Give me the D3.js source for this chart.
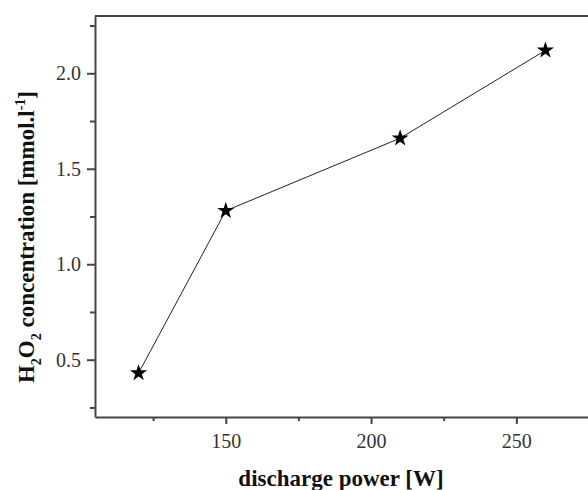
<!DOCTYPE html>
<html>
<head>
<meta charset="utf-8">
<script src="https://cdn.jsdelivr.net/npm/d3@7"></script>
<style>
  body { margin: 0; background: #fff; }
  svg { display: block; }
  .tick text { font-family: "Liberation Serif", serif; font-size: 20px; fill: #333; }
  .title { font-family: "Liberation Serif", serif; font-weight: bold; font-size: 23px; fill: #111; }
</style>
</head>
<body>
<div id="chart"></div>
<script>
// data
var power = [120, 150, 210, 260];
var conc = [0.43, 1.28, 1.66, 2.12];
var xTicks = [150, 200, 250];
var xMinor = [125, 175, 225, 275];
var yTicks = [0.5, 1.0, 1.5, 2.0];
var yMinor = [0.25, 0.75, 1.25, 1.75, 2.25];

var width = 588, height = 490;
var padL = 95, padT = 16, padB = 417, padR = 589;

var svg = d3.select("#chart").append("svg")
    .attr("width", width)
    .attr("height", height);

var x = d3.scaleLinear().domain([105, 275]).range([padL, padR]);
var y = d3.scaleLinear().domain([0.2, 2.3]).range([padB, padT]);

// minor ticks first, so the major axis draws over them
svg.append("g")
    .attr("transform", "translate(0," + padB + ")")
    .call(d3.axisBottom(x).tickValues(xMinor).tickSize(4).tickFormat(""))
    .call(g => g.select(".domain").remove())
    .selectAll("line").attr("stroke", "#444").attr("stroke-width", 2);

svg.append("g")
    .attr("transform", "translate(" + padL + ",0)")
    .call(d3.axisLeft(y).tickValues(yMinor).tickSize(5).tickFormat(""))
    .call(g => g.select(".domain").remove())
    .selectAll("line").attr("stroke", "#444").attr("stroke-width", 2);

var xAxis = svg.append("g")
    .attr("transform", "translate(0," + padB + ")")
    .call(d3.axisBottom(x).tickValues(xTicks).tickSize(7).tickSizeOuter(0).tickPadding(10).tickFormat(d3.format("d")));
xAxis.select(".domain").attr("stroke", "#444").attr("stroke-width", 2);
xAxis.selectAll("line").attr("stroke", "#444").attr("stroke-width", 2);

var yAxis = svg.append("g")
    .attr("transform", "translate(" + padL + ",0)")
    .call(d3.axisLeft(y).tickValues(yTicks).tickSize(8).tickSizeOuter(0).tickPadding(6).tickFormat(d3.format(".1f")));
yAxis.select(".domain").attr("stroke", "#444").attr("stroke-width", 2);
yAxis.selectAll("line").attr("stroke", "#444").attr("stroke-width", 2);

// frame top and right
svg.append("line")
    .attr("x1", padL).attr("x2", padR)
    .attr("y1", padT).attr("y2", padT)
    .attr("stroke", "#444").attr("stroke-width", 2);
svg.append("line")
    .attr("x1", padR).attr("x2", padR)
    .attr("y1", padT).attr("y2", padB)
    .attr("stroke", "#444").attr("stroke-width", 2);

var pts = power.map((p, i) => [p, conc[i]]);

svg.append("path")
    .datum(pts)
    .attr("fill", "none")
    .attr("stroke", "#222")
    .attr("stroke-width", 1)
    .attr("d", d3.line().x(d => x(d[0])).y(d => y(d[1])));

svg.selectAll(".star")
    .data(pts)
    .enter()
    .append("path")
    .attr("class", "star")
    .attr("transform", d => "translate(" + x(d[0]) + "," + y(d[1]) + ")")
    .attr("d", d3.symbol().type(d3.symbolStar).size(90))
    .attr("fill", "#000");

// axis titles
svg.append("text")
    .attr("class", "title")
    .attr("x", 341)
    .attr("y", 486)
    .attr("text-anchor", "middle")
    .text("discharge power [W]");

var yt = svg.append("text")
    .attr("class", "title")
    .attr("transform", "translate(34,237) rotate(-90)")
    .attr("text-anchor", "middle");
yt.append("tspan").text("H");
yt.append("tspan").attr("font-size", "14px").attr("dy", 7).text("2");
yt.append("tspan").attr("dy", -7).text("O");
yt.append("tspan").attr("font-size", "14px").attr("dy", 7).text("2");
yt.append("tspan").attr("dy", -7).text(" concentration [mmol.l");
yt.append("tspan").attr("font-size", "14px").attr("dy", -9).text("-1");
yt.append("tspan").attr("dy", 9).text("]");
</script>
</body>
</html>
